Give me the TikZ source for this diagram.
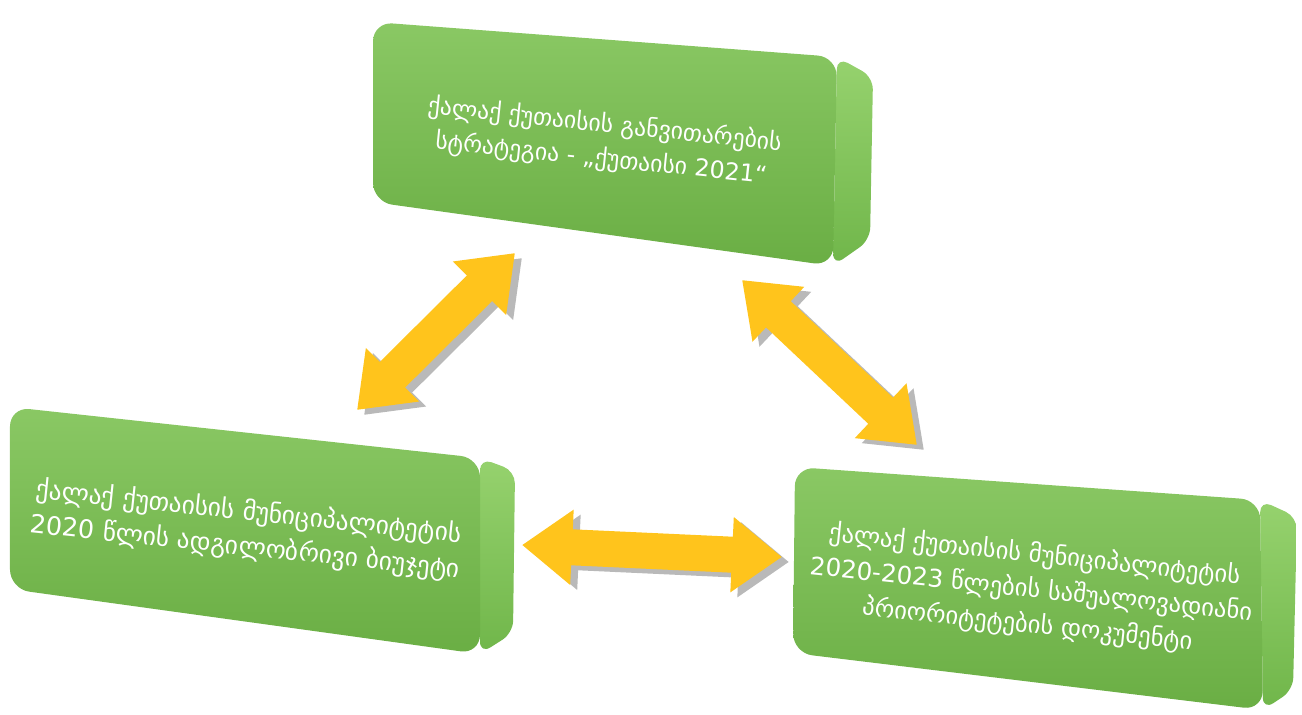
\documentclass[tikz,border=0pt]{standalone}
\usepackage{fontspec}
\newfontfamily\geofont{DejaVu Sans}
\usetikzlibrary{arrows.meta}
\definecolor{boxtop}{RGB}{138,200,100}
\definecolor{boxbot}{RGB}{106,174,68}
\definecolor{sidetop}{RGB}{150,210,110}
\definecolor{sidebot}{RGB}{112,182,74}
\definecolor{arrowgold}{RGB}{255,196,28}

\begin{document}
\begin{tikzpicture}
  \tikzstyle{front} = [top color=boxtop, bottom color=boxbot, rounded corners=11pt]
  \tikzstyle{side} = [top color=sidetop, bottom color=sidebot, rounded corners=7pt]
  \tikzstyle{boxtext} = [text=white, align=center, inner sep=0pt,
    font=\geofont\fontsize{13.5}{19.5}\selectfont]
  \tikzstyle{bigarrow} = [draw=arrowgold, line width=0.72cm,
    {Triangle[length=1cm,width=1.44cm]}-{Triangle[length=1cm,width=1.44cm]}]
  \tikzstyle{arrowshadow} = [bigarrow, draw=gray!55,
    transform canvas={shift={(0.14,-0.1)}}]

  \useasboundingbox (0,0) rectangle (26.04,-14.30);

  % Box corners
  \coordinate (st-nw) at (7.46,-0.44);
  \coordinate (st-ne) at (16.74,-1.14);
  \coordinate (st-se) at (16.66,-5.32);
  \coordinate (st-sw) at (7.46,-4.04);
  \coordinate (st-rn) at (17.46,-1.54);
  \coordinate (st-rs) at (17.40,-4.80);

  \coordinate (bu-nw) at (0.20,-8.14);
  \coordinate (bu-ne) at (9.60,-9.16);
  \coordinate (bu-se) at (9.60,-13.08);
  \coordinate (bu-sw) at (0.20,-11.78);
  \coordinate (bu-rn) at (10.30,-9.42);
  \coordinate (bu-rs) at (10.26,-12.66);

  \coordinate (pr-nw) at (15.90,-9.34);
  \coordinate (pr-ne) at (25.20,-10.00);
  \coordinate (pr-se) at (25.26,-14.20);
  \coordinate (pr-sw) at (15.86,-13.06);
  \coordinate (pr-rn) at (25.94,-10.34);
  \coordinate (pr-rs) at (25.86,-13.80);

  % Draw boxes
  \foreach \b in {st,bu,pr} {
    \path [side] (\b-ne) -- (\b-rn) -- (\b-rs) -- (\b-se) -- cycle;
    \path [front] (\b-nw) -- (\b-ne) -- (\b-se) -- (\b-sw) -- cycle;
  }

  % Place nodes
  \node [boxtext, rotate=-6] (strategy) at (12.06,-2.84)
    {ქალაქ ქუთაისის განვითარების\\სტრატეგია - „ქუთაისი 2021“};
  \node [boxtext, rotate=-6, font=\geofont\fontsize{14.5}{20}\selectfont]
    (budget) at (4.94,-10.60)
    {ქალაქ ქუთაისის მუნიციპალიტეტის\\2020 წლის ადგილობრივი ბიუჯეტი};
  \node [boxtext, rotate=-6, font=\geofont\fontsize{14}{20}\selectfont]
    (priorities) at (20.62,-11.80)
    {ქალაქ ქუთაისის მუნიციპალიტეტის\\2020-2023 წლების საშუალოვადიანი\\პრიორიტეტების დოკუმენტი};

  % Arrow ends
  \coordinate (bu-up) at (7.14,-8.20);
  \coordinate (st-left) at (10.30,-5.06);
  \coordinate (st-right) at (14.84,-5.60);
  \coordinate (pr-up) at (18.34,-8.90);
  \coordinate (bu-right) at (10.44,-10.90);
  \coordinate (pr-left) at (15.64,-11.14);

  % Draw edges
  \path [arrowshadow] (bu-up) -- (st-left);
  \path [arrowshadow] (st-right) -- (pr-up);
  \path [arrowshadow] (bu-right) -- (pr-left);
  \path [bigarrow] (bu-up) -- (st-left);
  \path [bigarrow] (st-right) -- (pr-up);
  \path [bigarrow] (bu-right) -- (pr-left);
\end{tikzpicture}
\end{document}
